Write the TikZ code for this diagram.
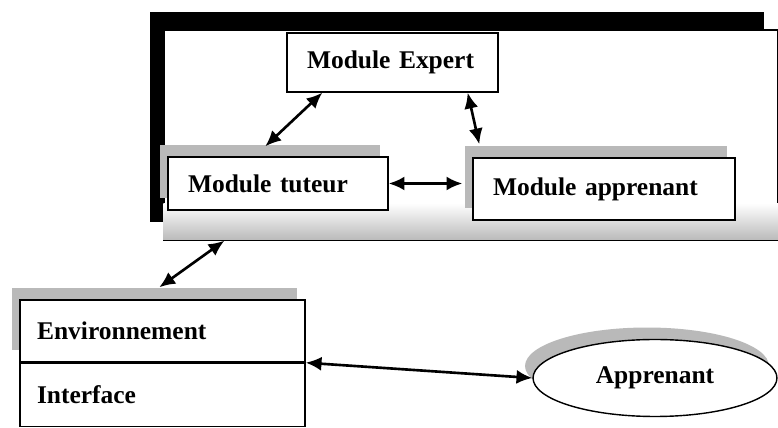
\documentclass[tikz,border=0pt]{standalone}
\usepackage{fontspec}
\setmainfont{Liberation Serif}
\usepackage{tikz}
\usetikzlibrary{positioning, arrows.meta, shadows, shapes.geometric}
\tikzset{
    modbox/.style={draw, thick, fill=white, align=left, inner xsep=0.4cm, font=\bfseries\fontsize{14.5}{17}\selectfont}, % the boxes of the modules
    grayshadow/.style={general shadow={fill=gray!55, shadow xshift=-0.16cm, shadow yshift=0.24cm}}, % grey shade up-left of a box
    frame/.style={draw, line width=0.8pt, fill=white, general shadow={fill=black, shadow xshift=-0.28cm, shadow yshift=0.36cm}}, % the big frame
}
\tikzstyle{link} = [line width=1.5pt, {Latex[length=9pt,width=8pt]}-{Latex[length=9pt,width=8pt]}]

\begin{document}
\begin{tikzpicture}[x=0.02cm, y=-0.02cm]
            \useasboundingbox (0,0) rectangle (778,428);

            % the system frame
            \node[frame, minimum width=12.28cm, minimum height=4.2cm] (systeme) at (471,135) {};
            \fill[top color=white, bottom color=gray!55] ([yshift=0.75cm]systeme.south west) rectangle (systeme.south east);
            \draw[line width=0.8pt] (systeme.south west) -- (systeme.south east);

            \node[modbox, text width=3.42cm, minimum height=1.18cm] (expert) at (392.5,62.5) {Module Expert};
            \node[modbox, grayshadow, text width=3.6cm, minimum height=1.06cm] (tuteur) at (278,183.5) {Module tuteur};
            \node[modbox, grayshadow, text width=4.44cm, minimum height=1.24cm] (apprenantMod) at (604,189) {Module apprenant};

            % outside the frame
            \node[modbox, grayshadow, inner xsep=0.34cm, text width=5.02cm, minimum height=1.24cm] (envtop) at (162.5,331) {Environnement};
            \node[modbox, inner xsep=0.34cm, text width=5.02cm, minimum height=1.26cm, below=0pt of envtop] (envbot) {Interface};
            \node[modbox, grayshadow, ellipse, align=center, inner xsep=0pt, minimum width=4.88cm, minimum height=1.54cm] (apprenant) at (655,378) {Apprenant};

            \draw[link] ([xshift=0.72cm]expert.south west) -- ([xshift=1.96cm, yshift=0.2cm]tuteur.north west);
            \draw[link] ([xshift=-0.62cm]expert.south east) -- ([xshift=0.14cm, yshift=0.26cm]apprenantMod.north west);
            \draw[link] (tuteur.east) -- ([xshift=-0.2cm]tuteur.east -| apprenantMod.west);
            \draw[link] ([xshift=1.22cm]systeme.south west) -- ([xshift=2.8cm, yshift=0.24cm]envtop.north west);
            \draw[link] (envtop.south east) -- (apprenant.west);
        \end{tikzpicture}
\end{document}
